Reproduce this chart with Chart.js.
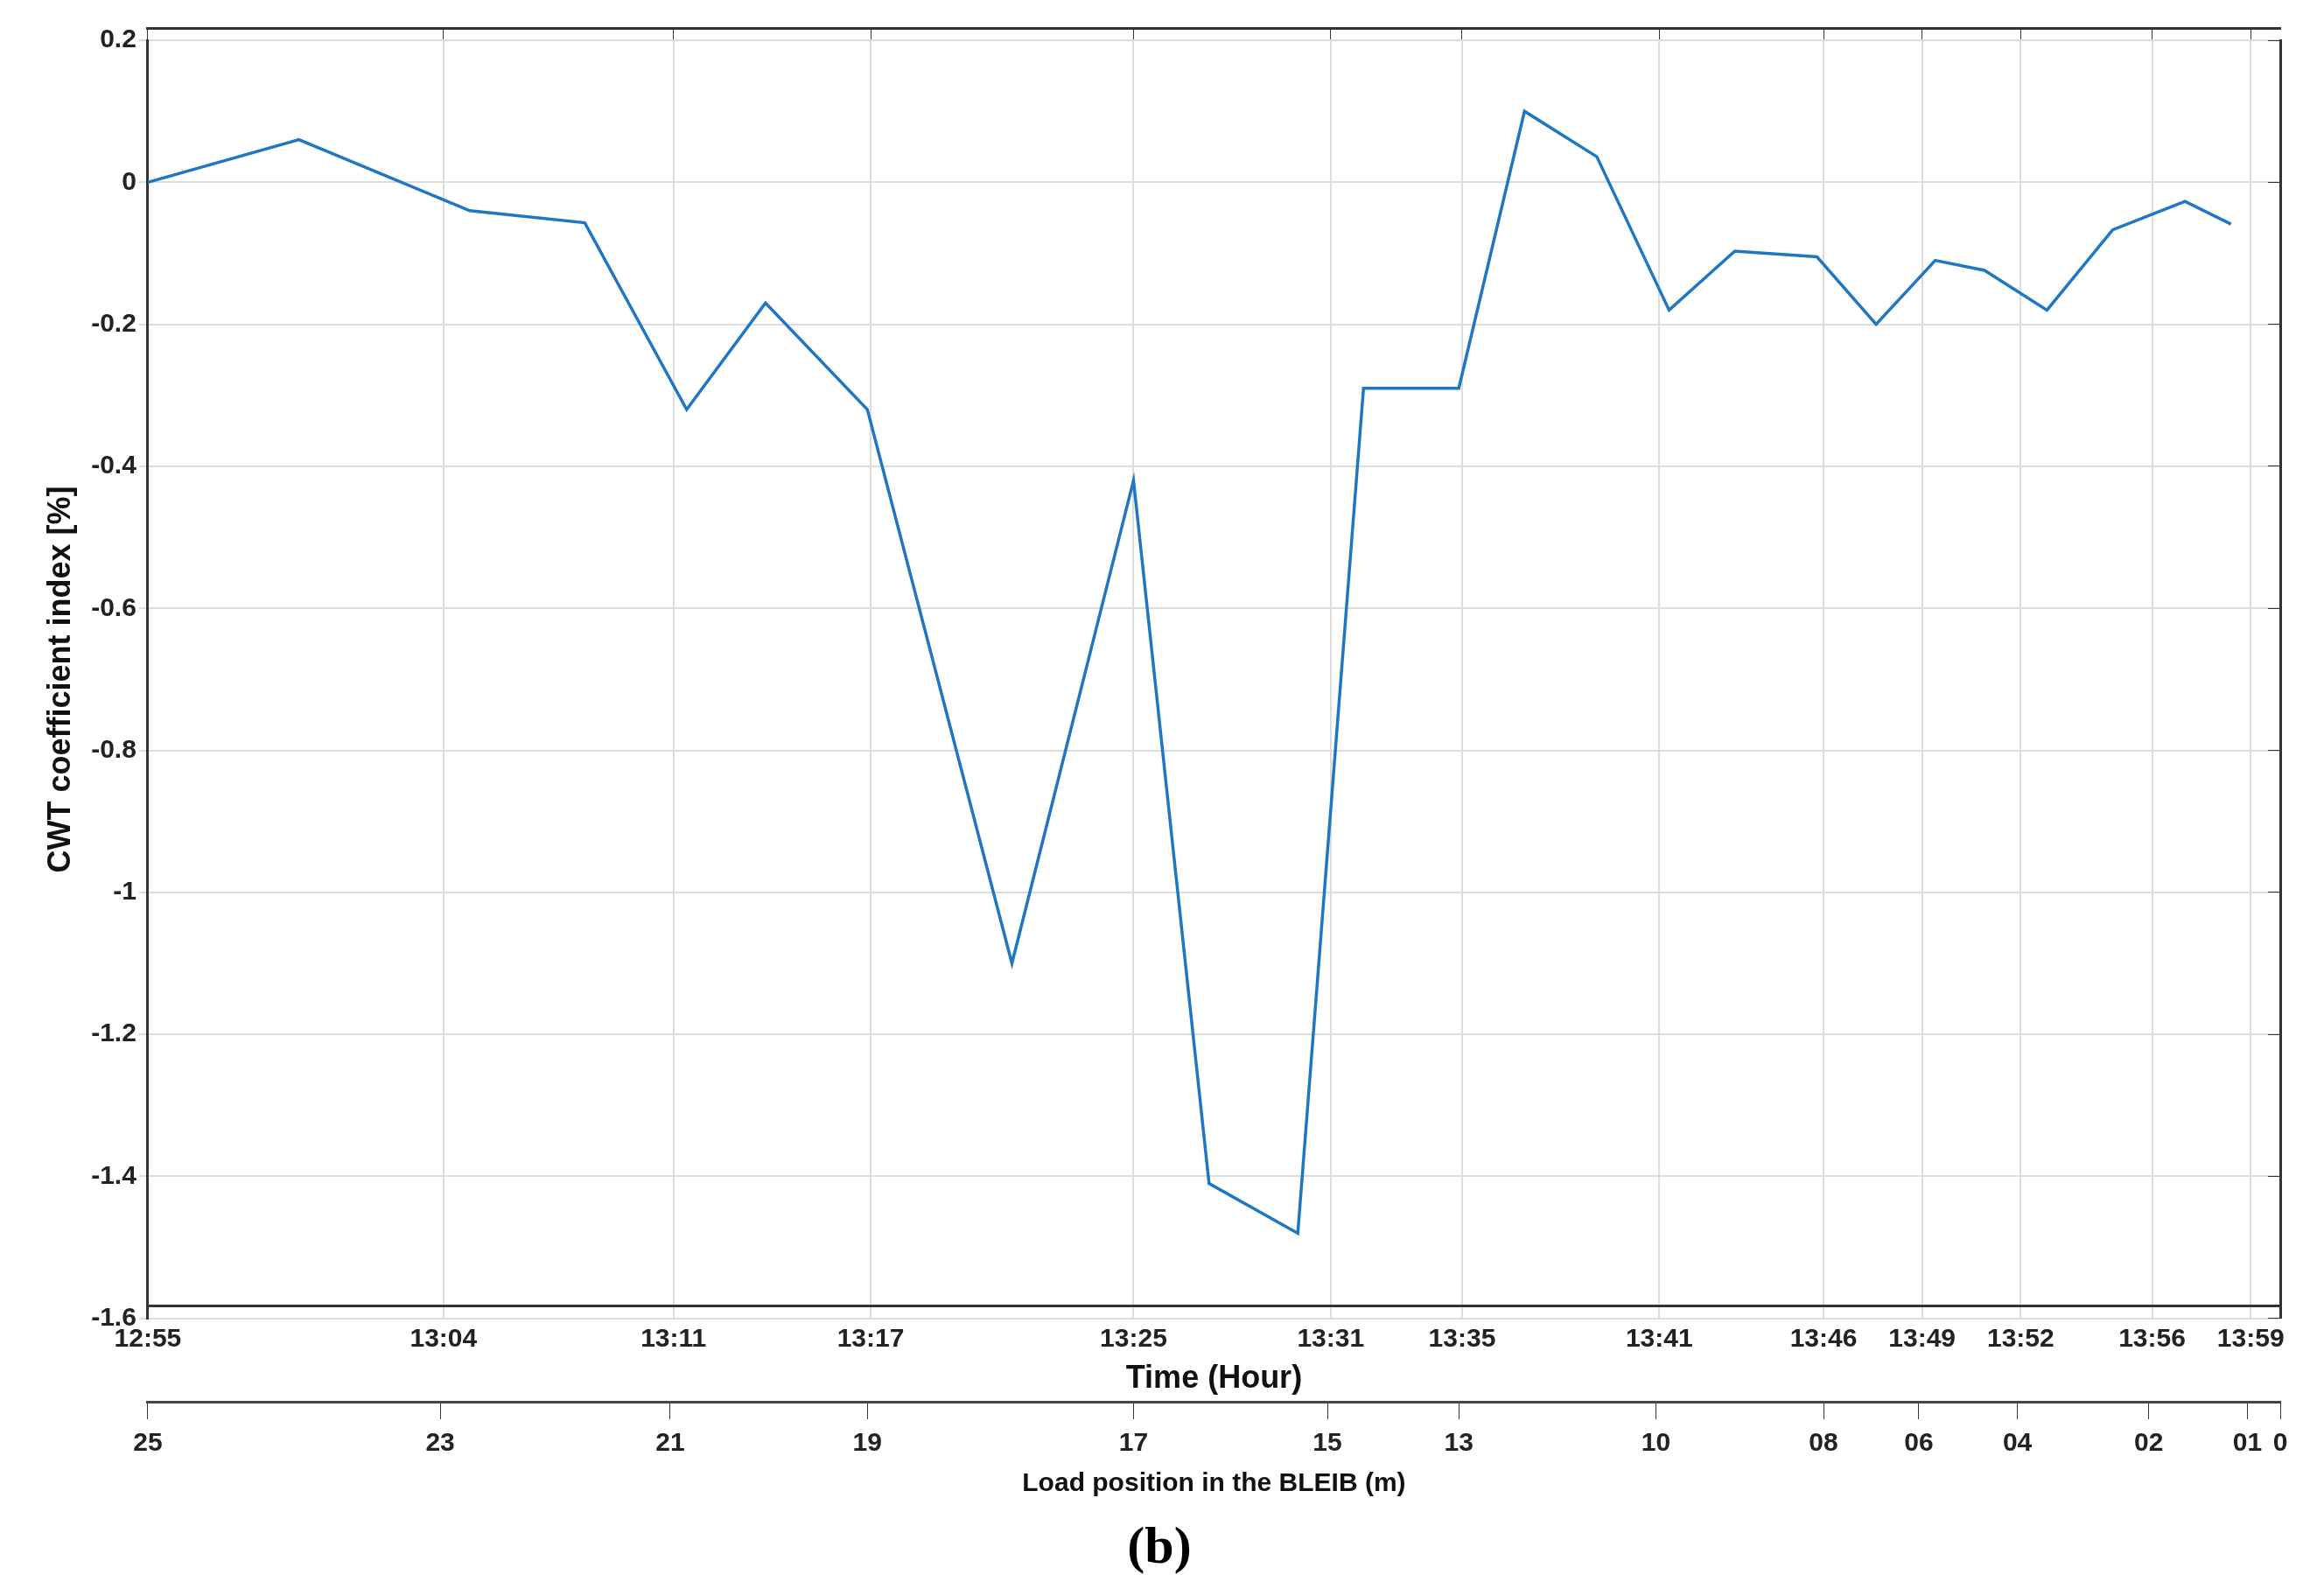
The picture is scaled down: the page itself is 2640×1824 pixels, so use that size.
<!DOCTYPE html>
<html><head><meta charset="utf-8">
<script src="https://cdn.jsdelivr.net/npm/chart.js@4"></script>
<style>html,body{margin:0;padding:0;background:#fff}#wrap{width:2640px;height:1824px}</style>
</head><body><div id="wrap"><canvas id="c"></canvas></div>
<script>
// minutes after 12:55
const minutes = [0,4.6,9.8,13.3,16.4,18.8,21.9,26.3,30.0,32.3,35.0,37.0,39.9,41.9,44.1,46.3,48.3,50.8,52.6,54.4,55.9,57.8,59.8,62.0,63.4];
const cwt = [0.0,0.06,-0.04,-0.057,-0.32,-0.17,-0.32,-1.10,-0.42,-1.41,-1.48,-0.29,-0.29,0.10,0.036,-0.18,-0.097,-0.105,-0.20,-0.11,-0.124,-0.18,-0.067,-0.027,-0.059];
const timeTickPos = [0,9,16,22,30,36,40,46,51,54,57,61,64];
const timeTickLabels = ['12:55','13:04','13:11','13:17','13:25','13:31','13:35','13:41','13:46','13:49','13:52','13:56','13:59'];
const loadTickPos = [0,8.9,15.9,21.9,30,35.9,39.9,45.9,51,53.9,56.9,60.9,63.9,64.9];
const loadTickLabels = ['25','23','21','19','17','15','13','10','08','06','04','02','01','0'];
const yTicks = [0.2,0,-0.2,-0.4,-0.6,-0.8,-1,-1.2,-1.4,-1.6];

const F = 'Liberation Sans, Arial, sans-serif';
const fixTicks = (pos, labels, pad) => ({
  afterBuildTicks: s => { s.ticks = pos.map(v => ({value: v})); },
  ticks: {callback: (v, i) => labels[i], autoSkip: false, maxRotation: 0, padding: pad, color: '#222', font: {family: F, size: 30, weight: 'bold'}}
});
new Chart(document.getElementById('c'), {
  type: 'line',
  data: {datasets: [{data: minutes.map((m, i) => ({x: m, y: cwt[i]})), borderColor: '#1f77c4', borderWidth: 3.5, pointRadius: 0, tension: 0}]},
  options: {
    responsive: true, maintainAspectRatio: false, animation: false,
    layout: {padding: {top: 46, right: 34, left: 44, bottom: 0}},
    plugins: {legend: {display: false},
      title: {display: true, position: 'bottom', text: '(b)', color: '#000', font: {family: 'Liberation Serif, serif', size: 60, weight: 'bold'}, padding: {top: 20, bottom: 4}}},
    scales: {
      x: {type: 'linear', position: 'bottom', min: 0, max: 64.9, ...fixTicks(timeTickPos, timeTickLabels, 6),
        grid: {color: '#dcdcdc', lineWidth: 2, tickLength: 14, drawTicks: true},
        border: {color: '#333', width: 3},
        title: {display: true, text: 'Time (Hour)', color: '#111', font: {family: F, size: 36, weight: 'bold'}, padding: {top: 0, bottom: 4}}},
      x2: {type: 'linear', position: 'bottom', min: 0, max: 64.9, ...fixTicks(loadTickPos, loadTickLabels, 10),
        grid: {drawOnChartArea: false, color: '#333', tickLength: 20},
        border: {color: '#444', width: 3},
        title: {display: true, text: 'Load position in the BLEIB (m)', color: '#111', font: {family: F, size: 30, weight: 'bold'}, padding: 0}},
      xTop: {type: 'linear', position: 'top', min: 0, max: 64.9,
        afterBuildTicks: s => { s.ticks = timeTickPos.map(v => ({value: v})); },
        ticks: {display: false}, grid: {drawOnChartArea: false, color: '#333', tickLength: -14}, border: {color: '#333', width: 3}},
      y: {min: -1.6, max: 0.2,
        afterBuildTicks: s => { s.ticks = yTicks.map(v => ({value: v})); },
        ticks: {color: '#222', font: {family: F, size: 30, weight: 'bold'}, callback: v => String(Math.round(v * 10) / 10)},
        grid: {color: '#dcdcdc', lineWidth: 2, tickLength: 10},
        border: {color: '#333', width: 3},
        title: {display: true, text: 'CWT coefficient index [%]', color: '#111', font: {family: F, size: 36, weight: 'bold'}, padding: {bottom: 10}}},
      yRight: {position: 'right', min: -1.6, max: 0.2,
        afterBuildTicks: s => { s.ticks = yTicks.map(v => ({value: v})); },
        ticks: {display: false}, grid: {drawOnChartArea: false, color: '#333', tickLength: -14}, border: {color: '#333', width: 3}}
    }
  }
});
</script></body></html>
